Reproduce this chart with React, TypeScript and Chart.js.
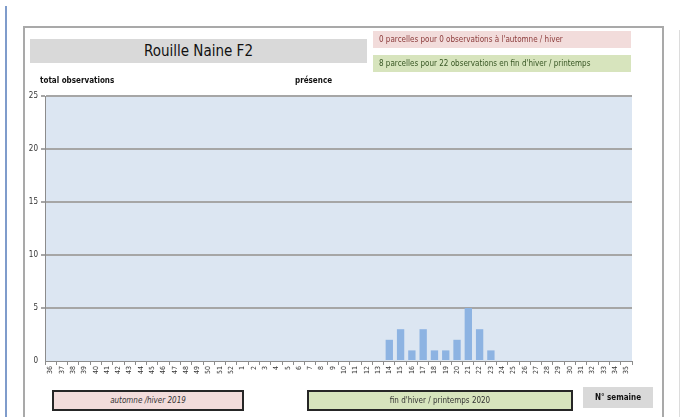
import React, { useEffect, useRef } from "react";
import { Chart, registerables } from "chart.js";

Chart.register(...registerables);

const weeks: string[] = [
  "36","37","38","39","40","41","42","43","44","45","46","47","48","49","50","51","52",
  "1","2","3","4","5","6","7","8","9","10","11","12","13","14","15","16","17","18","19","20",
  "21","22","23","24","25","26","27","28","29","30","31","32","33","34","35",
];
const observedWeeks: string[] = ["14","15","16","17","18","19","20","21","22","23"];
const observedCounts: number[] = [2, 3, 1, 3, 1, 1, 2, 5, 3, 1];
const counts: (number | null)[] = weeks.map((w) => {
  const i = observedWeeks.indexOf(w);
  return i >= 0 ? observedCounts[i] : null;
});
const yTicks: number[] = [0, 5, 10, 15, 20, 25];

const FONT = "'Liberation Sans Narrow', 'DejaVu Sans Condensed', 'Liberation Sans', sans-serif";

const bgPlugin = {
  id: "plotBg",
  beforeDraw(chart: any) {
    const { ctx, chartArea } = chart;
    ctx.save();
    ctx.fillStyle = "#dce6f2";
    ctx.fillRect(chartArea.left, chartArea.top, chartArea.right - chartArea.left, chartArea.bottom - chartArea.top);
    ctx.restore();
  },
};

const box = (s: React.CSSProperties): React.CSSProperties => ({
  position: "absolute",
  boxSizing: "border-box",
  fontFamily: FONT,
  display: "flex",
  alignItems: "center",
  ...s,
});

export default function App() {
  const ref = useRef<HTMLCanvasElement | null>(null);
  useEffect(() => {
    if (!ref.current) return;
    const chart = new Chart(ref.current, {
      type: "bar",
      data: {
        labels: weeks,
        datasets: [
          {
            data: counts,
            backgroundColor: "#8db3e2",
            barPercentage: 0.65,
            categoryPercentage: 1,
          },
        ],
      },
      options: {
        animation: false,
        responsive: false,
        maintainAspectRatio: false,
        layout: { padding: { left: 25, right: 49, top: 96, bottom: 36 } },
        plugins: { legend: { display: false }, tooltip: { enabled: false } },
        scales: {
          x: {
            offset: true,
            grid: { drawOnChartArea: false, drawTicks: true, tickLength: 4, color: "#8c8c8c", offset: true },
            border: { color: "#8c8c8c", width: 1 },
            ticks: {
              autoSkip: false,
              minRotation: 90,
              maxRotation: 90,
              padding: 1,
              color: "#333",
              font: { family: FONT, size: 7 },
            },
            afterFit: (s: any) => { s.height = 20; },
          },
          y: {
            min: 0,
            max: 25,
            afterBuildTicks: (s: any) => { s.ticks = yTicks.map((v) => ({ value: v })); },
            grid: { color: (c: any) => (c.tick && c.tick.value === 0 ? "rgba(0,0,0,0)" : "#a6a6a6"), lineWidth: 2, tickLength: 4, drawTicks: true },
            border: { color: "#8c8c8c", width: 1 },
            ticks: { color: "#333", padding: 3, font: { family: FONT, size: 8 } },
            afterFit: (s: any) => { s.width = 20; },
          },
        },
      },
      plugins: [bgPlugin],
    });
    return () => chart.destroy();
  }, []);

  return (
    <div style={{ position: "absolute", left: 0, top: 0, width: 681, height: 417, background: "#fff", overflow: "hidden" }}>
      <div style={{ position: "absolute", left: 5, top: 6, width: 2, height: 411, background: "#7f9ccb" }} />
      <div style={{ position: "absolute", left: 23, top: 26, width: 641, height: 400, border: "2px solid #a9a9a9", boxSizing: "border-box" }} />
      <div style={{ position: "absolute", left: 679, top: 30, width: 1, height: 387, background: "#dcdcdc" }} />
      <canvas ref={ref} width={681} height={417} style={{ position: "absolute", left: 0, top: 0 }} />
      <div style={box({ left: 30, top: 39, width: 337, height: 24, background: "#d9d9d9", justifyContent: "center", fontSize: 15, color: "#111" })}>
        Rouille Naine F2
      </div>
      <div style={box({ left: 373, top: 31, width: 258, height: 17, background: "#f2dcdb", paddingLeft: 6, fontSize: 8, color: "#8b3a3a" })}>
        0 parcelles pour 0 observations à l'automne / hiver
      </div>
      <div style={box({ left: 373, top: 55, width: 258, height: 17, background: "#d7e4bd", paddingLeft: 6, fontSize: 8, color: "#375623" })}>
        8 parcelles pour 22 observations en fin d'hiver / printemps
      </div>
      <div style={box({ left: 40, top: 74, height: 12, fontSize: 8, fontWeight: "bold", color: "#111" })}>total observations</div>
      <div style={box({ left: 295, top: 74, height: 12, fontSize: 8, fontWeight: "bold", color: "#111" })}>présence</div>
      <div style={box({ left: 52, top: 390, width: 192, height: 21, background: "#f2dcdb", border: "2px solid #262626", justifyContent: "center", fontSize: 8, fontStyle: "italic", color: "#333" })}>
        automne /hiver 2019
      </div>
      <div style={box({ left: 307, top: 390, width: 266, height: 21, background: "#d7e4bd", border: "2px solid #262626", justifyContent: "center", fontSize: 8, color: "#333" })}>
        fin d'hiver / printemps 2020
      </div>
      <div style={box({ left: 583, top: 387, width: 70, height: 21, background: "#d9d9d9", justifyContent: "center", fontSize: 8, fontWeight: "bold", color: "#111" })}>
        N° semaine
      </div>
    </div>
  );
}
